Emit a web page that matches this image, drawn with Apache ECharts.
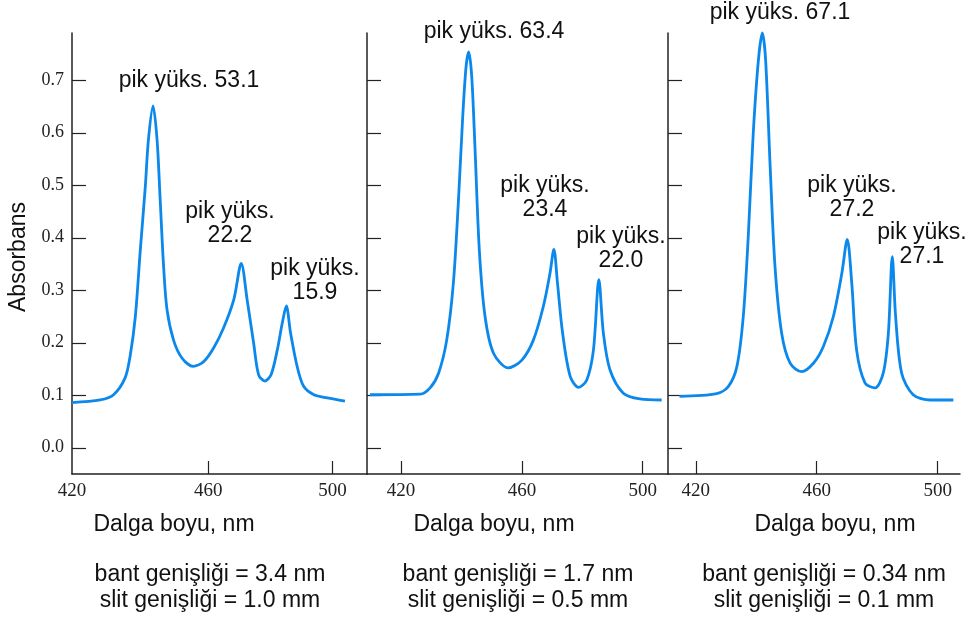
<!DOCTYPE html>
<html>
<head>
<meta charset="utf-8">
<script src="https://cdn.jsdelivr.net/npm/echarts@6/dist/echarts.min.js"></script>
<style>
  html, body { margin: 0; padding: 0; background: #fff; }
  #main { width: 971px; height: 620px; }
</style>
</head>
<body>
<div id="main"></div>
<script>
// panel 1: bant genişliği 3.4 nm
const wave1 = [416, 425.2, 429.5, 433.2, 434.8, 436.5, 438.1, 439.7, 440.7, 442.2, 443.5, 444.5, 445.6, 446.7, 448.8, 451.5, 455.1, 458.5, 461.7, 464.9, 468.2, 470.6, 472.5, 474.6, 476.2, 478.2, 480.2, 482.2, 483.8, 485.1, 486.5, 488.6, 490.7, 494, 498.3, 504];
const abs1 = [0.086, 0.091, 0.101, 0.133, 0.174, 0.25, 0.377, 0.497, 0.586, 0.651, 0.586, 0.472, 0.345, 0.263, 0.205, 0.171, 0.155, 0.164, 0.19, 0.228, 0.282, 0.351, 0.282, 0.199, 0.139, 0.127, 0.139, 0.186, 0.237, 0.27, 0.218, 0.155, 0.117, 0.101, 0.095, 0.089];

// panel 2: bant genişliği 1.7 nm
const wave2 = [409.7, 426.3, 429.6, 432.4, 435.1, 437.3, 439, 440.4, 441.5, 442.4, 443.4, 444.5, 445.9, 447.8, 450.6, 455.5, 460, 463.8, 467.1, 469.3, 470.6, 471.8, 473.5, 476, 478.8, 481.5, 483.7, 485.5, 487, 489.2, 493.6, 499.1, 506.3];
const abs2 = [0.101, 0.102, 0.114, 0.142, 0.205, 0.313, 0.472, 0.63, 0.725, 0.754, 0.706, 0.567, 0.377, 0.25, 0.18, 0.152, 0.167, 0.205, 0.269, 0.332, 0.378, 0.313, 0.218, 0.136, 0.115, 0.129, 0.186, 0.32, 0.218, 0.148, 0.104, 0.093, 0.091];

// panel 3: bant genişliği 0.34 nm
const wave3 = [414.6, 426.9, 430.8, 433.6, 435.7, 437.4, 439, 440.7, 442, 443.1, 444.6, 446.2, 448.4, 451.2, 455, 458.9, 462.2, 465.5, 468.3, 470.1, 471.6, 473.2, 476, 479.3, 482, 483.7, 485, 486.1, 488.1, 491.9, 497.5, 505.2];
const abs3 = [0.098, 0.103, 0.117, 0.155, 0.25, 0.408, 0.599, 0.738, 0.79, 0.738, 0.535, 0.345, 0.218, 0.161, 0.145, 0.161, 0.193, 0.25, 0.332, 0.397, 0.313, 0.186, 0.123, 0.114, 0.142, 0.218, 0.364, 0.25, 0.142, 0.101, 0.091, 0.091];

const xTicks = [420, 460, 500];
const yTicks = [0, 0.1, 0.2, 0.3, 0.4, 0.5, 0.6, 0.7];
const xRanges = [[416.1, 511.1], [408.7, 508.4], [410.8, 507.4]];

const peakLabels = [
  ["pik yüks. 53.1", "pik yüks.\n22.2", "pik yüks.\n15.9"],
  ["pik yüks. 63.4", "pik yüks.\n23.4", "pik yüks.\n22.0"],
  ["pik yüks. 67.1", "pik yüks.\n27.2", "pik yüks.\n27.1"]
];
const bandLabels = [
  "bant genişliği = 3.4 nm\nslit genişliği = 1.0 mm",
  "bant genişliği = 1.7 nm\nslit genişliği = 0.5 mm",
  "bant genişliği = 0.34 nm\nslit genişliği = 0.1 mm"
];

const waves = [wave1, wave2, wave3];
const absVals = [abs1, abs2, abs3];

const gridPos = [
  { left: 72, width: 295 },
  { left: 367, width: 301 },
  { left: 668, width: 292 }
];

const lineColor = "#0b88ec";
const axisColor = "#222";
const sans = "'Liberation Sans', Arial, sans-serif";
const serif = "'Liberation Serif', 'Times New Roman', serif";

const myChart = echarts.init(document.getElementById("main"));

const grids = gridPos.map(g => ({ left: g.left, width: g.width, top: 33, height: 441 }));

const xAxes = xRanges.map((r, i) => ({
  type: "value",
  gridIndex: i,
  min: r[0],
  max: r[1],
  axisLine: { show: true, onZero: false, lineStyle: { color: axisColor, width: 1.5 } },
  axisTick: {
    show: true,
    inside: true,
    length: 13,
    customValues: i === 0 ? xTicks.slice(1) : xTicks,
    lineStyle: { color: axisColor, width: 1.2 }
  },
  axisLabel: {
    // first panel prints "420" at the axis corner
    customValues: i === 0 ? [r[0]].concat(xTicks.slice(1)) : xTicks,
    formatter: v => String(Math.round(v / 20) * 20),
    fontFamily: serif,
    fontSize: 19,
    color: axisColor,
    margin: 8
  },
  splitLine: { show: false }
}));

const yAxes = [0, 1, 2].map(i => ({
  type: "value",
  gridIndex: i,
  min: -0.05,
  max: 0.79,
  axisLine: { show: true, onZero: false, lineStyle: { color: axisColor, width: 1.5 } },
  axisTick: {
    show: true,
    inside: true,
    length: 14,
    customValues: yTicks,
    lineStyle: { color: axisColor, width: 1.2 }
  },
  axisLabel: {
    show: i === 0,
    customValues: yTicks,
    formatter: v => v.toFixed(1),
    fontFamily: serif,
    fontSize: 18,
    color: axisColor,
    margin: 8
  },
  splitLine: { show: false }
}));

const series = waves.map((w, i) => ({
  type: "line",
  xAxisIndex: i,
  yAxisIndex: i,
  data: w.map((x, j) => [x, absVals[i][j]]),
  showSymbol: false,
  smooth: 0.3,
  clip: false,
  lineStyle: { color: lineColor, width: 2.8 },
  silent: true
}));

// text placement (centers) for the peak notes and captions
const peakPos = [
  [[189, 81], [230, 224], [315, 281]],
  [[494, 32], [545, 198], [621, 249]],
  [[780, 13], [852, 198], [922, 245]]
];
const axisNamePos = [174, 494, 835];
const bandPos = [210, 518, 824];

function text(str, x, y, size, lineHeight, rotation) {
  return {
    type: "text",
    x: x,
    y: y,
    rotation: rotation || 0,
    style: {
      text: str,
      font: size + "px " + sans,
      fill: "#111",
      textAlign: "center",
      textVerticalAlign: "middle",
      lineHeight: lineHeight
    }
  };
}

const graphics = [];
peakLabels.forEach((labels, i) => {
  labels.forEach((lab, j) => {
    graphics.push(text(lab, peakPos[i][j][0], peakPos[i][j][1], 23, 24));
  });
  graphics.push(text("Dalga boyu, nm", axisNamePos[i], 525, 23, 24));
  graphics.push(text(bandLabels[i], bandPos[i], 588, 23, 26));
});
graphics.push(text("Absorbans", 19, 257, 23, 24, Math.PI / 2));

const options = {
  animation: false,
  grid: grids,
  xAxis: xAxes,
  yAxis: yAxes,
  series: series,
  graphic: graphics
};

myChart.setOption(options);
</script>
</body>
</html>
